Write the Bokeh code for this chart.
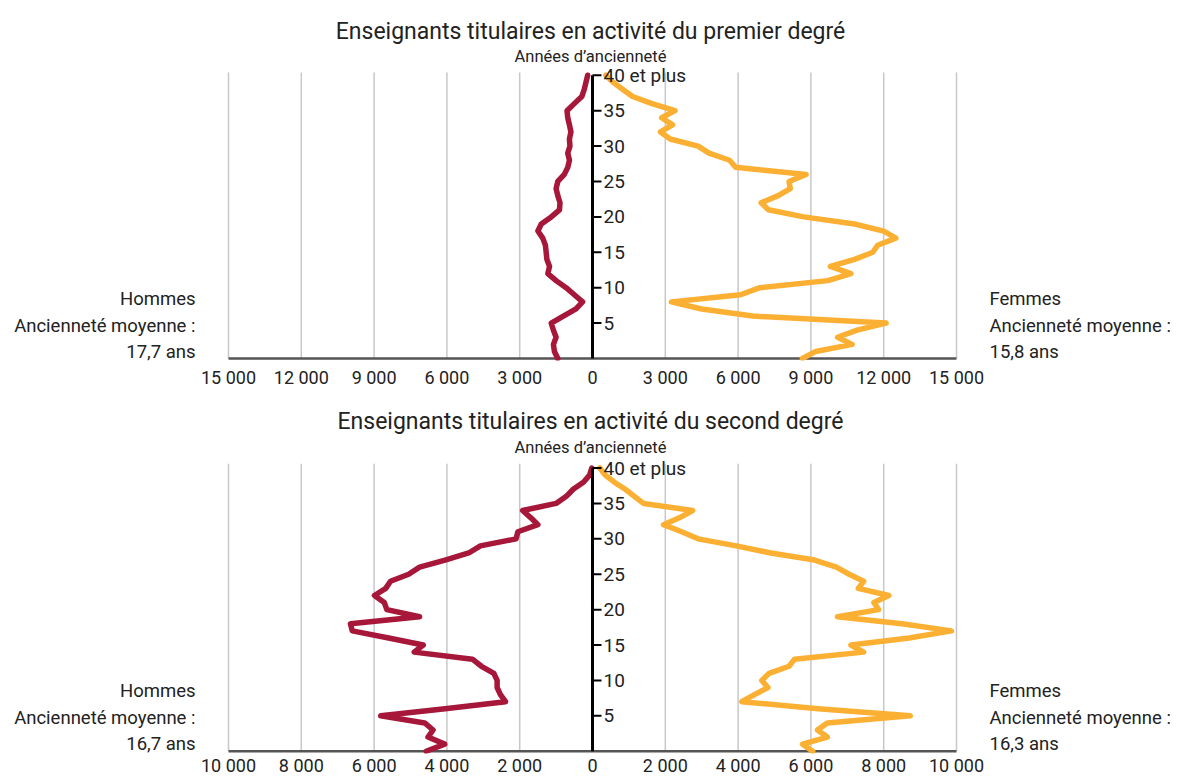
from bokeh.plotting import figure
from bokeh.layouts import column
from bokeh.models import Range1d, FixedTicker, Label, LabelSet, ColumnDataSource
from bokeh.core.properties import value
from bokeh.embed import file_html
from bokeh.resources import INLINE

# ---------------- data ----------------
years = list(range(0, 41))

# Premier degré (number of teachers by years of seniority, 0 .. 40 et plus)
prim_hommes = [1430, 1570, 1610, 1500, 1610, 1700, 1200, 680, 410, 750,
               1090, 1500, 1840, 1770, 1880, 1910, 1940, 2050, 2250, 2110,
               1700, 1360, 1340, 1430, 1500, 1430, 1160, 1020, 950, 1020,
               930, 950, 890, 950, 1020, 1050, 750, 440, 340, 270, 200]
prim_femmes = [8650, 9200, 10700, 10100, 10900, 12100, 6600, 4500, 3250, 6100,
               6900, 9700, 10650, 9800, 10800, 11550, 11750, 12500, 12000, 10800,
               8700, 7250, 6950, 7650, 8150, 8100, 8800, 5900, 5650, 4800,
               4350, 3200, 2800, 3300, 2850, 3400, 2450, 1650, 1250, 850, 550]

# Second degré
sec_hommes = [4570, 4060, 4520, 4380, 4610, 5820, 4050, 2390, 2530, 2620,
              2620, 2710, 3050, 3300, 4900, 4650, 5600, 6600, 6650, 4750,
              5650, 5720, 5990, 5680, 5550, 5050, 4750, 4050, 3400, 3080,
              2100, 2050, 1500, 1700, 1920, 1000, 720, 530, 250, 80, 20]
sec_femmes = [6050, 5770, 6450, 6180, 6450, 8730, 6200, 4100, 4450, 4820,
              4650, 4850, 5400, 5550, 7450, 7100, 8700, 9860, 8500, 6730,
              7860, 7730, 8140, 7300, 7450, 7050, 6700, 6100, 4900, 3950,
              2900, 2450, 1950, 2400, 2750, 1400, 1150, 900, 600, 350, 200]

prim_ticks = [-15000, -12000, -9000, -6000, -3000, 0, 3000, 6000, 9000, 12000, 15000]
sec_ticks = [-10000, -8000, -6000, -4000, -2000, 0, 2000, 4000, 6000, 8000, 10000]

y_ticks = [5, 10, 15, 20, 25, 30, 35, 40]
y_labels = ["5", "10", "15", "20", "25", "30", "35", "40 et plus"]

titles = ["Enseignants titulaires en activité du premier degré",
          "Enseignants titulaires en activité du second degré"]
axis_title = "Années d\u2019ancienneté"
left_texts = [["Hommes", "Ancienneté moyenne :", "17,7 ans"],
              ["Hommes", "Ancienneté moyenne :", "16,7 ans"]]
right_texts = [["Femmes", "Ancienneté moyenne :", "15,8 ans"],
               ["Femmes", "Ancienneté moyenne :", "16,3 ans"]]

# ---------------- style / layout ----------------
RED = "#A6173A"
ORANGE = "#FBB034"
GRID = "#C8C8C8"
TXT = "#222222"
FONT = "Roboto"

W = 1176            # figure width (frame spans it entirely)
X_LEFT = 228        # pixel where -lim sits
X_RIGHT = 956       # pixel where +lim sits


def fmt(v):
    return f"{abs(v):,}".replace(",", " ")


def make_panel(title, hommes, femmes, ticks, ltxt, rtxt, height, bbottom, standoff,
               y_bot, y_top, grid_top, title_y, sub_y, side_y):
    lim = max(abs(t) for t in ticks)
    b = (X_RIGHT - X_LEFT) / (2 * lim)
    xr = Range1d(-lim - X_LEFT / b, lim + (W - X_RIGHT) / b)
    p = figure(width=W, height=height,
               x_range=xr, y_range=Range1d(y_bot, y_top),
               output_backend="svg", toolbar_location=None,
               y_axis_location=None,
               min_border_left=0, min_border_right=0,
               min_border_top=0, min_border_bottom=bbottom,
               outline_line_color=None)
    p.xaxis.ticker = FixedTicker(ticks=ticks)
    p.xaxis.major_label_overrides = {t: fmt(t) for t in ticks}
    p.xaxis.major_tick_line_color = None
    p.xaxis.minor_tick_line_color = None
    p.xaxis.axis_line_color = None
    p.xaxis.major_label_text_font = FONT
    p.xaxis.major_label_text_font_size = "18px"
    p.xaxis.major_label_text_color = TXT
    p.xaxis.major_label_standoff = standoff
    p.grid.visible = False

    # vertical grid lines
    gt = [t for t in ticks if t != 0]
    p.segment(x0=gt, y0=[0] * len(gt), x1=gt, y1=[grid_top] * len(gt),
              line_color=GRID, line_width=1.5)
    # baseline
    p.segment(x0=[-lim], y0=[0], x1=[lim], y1=[0], line_color="#555555", line_width=2.5)

    neg = [-v for v in hommes]
    p.line(neg, years, line_color=RED, line_width=5.5, line_join="round", line_cap="round")
    p.line(femmes, years, line_color=ORANGE, line_width=5.5, line_join="round", line_cap="round")

    # vertical axis at 0
    p.segment(x0=[0], y0=[0], x1=[0], y1=[40], line_color="black", line_width=3)
    p.ray(x=[0] * len(y_ticks), y=y_ticks, length=9, length_units="screen",
          angle=0, line_color="black", line_width=2)
    src = ColumnDataSource(dict(x=[0] * len(y_ticks), y=y_ticks, text=y_labels))
    p.add_layout(LabelSet(x="x", y="y", text="text", source=src, x_offset=11,
                          text_align="left", text_baseline="middle",
                          text_font=value(FONT), text_font_size="19px", text_color=TXT))

    p.add_layout(Label(x=0, y=title_y, x_offset=-2, text=title, text_align="center",
                       text_baseline="middle", text_font=FONT, text_font_size="23px",
                       text_color=TXT))
    p.add_layout(Label(x=0, y=sub_y, x_offset=-2, text=axis_title, text_align="center",
                       text_baseline="middle", text_font=FONT, text_font_size="16.5px",
                       text_color=TXT))

    for t, yy in zip(ltxt, side_y):
        p.add_layout(Label(x=-lim, y=yy, x_offset=-33, text=t, text_align="right",
                           text_baseline="middle", text_font=FONT,
                           text_font_size="18.5px", text_color=TXT))
    for t, yy in zip(rtxt, side_y):
        p.add_layout(Label(x=lim, y=yy, x_offset=33, text=t, text_align="left",
                           text_baseline="middle", text_font=FONT,
                           text_font_size="18.5px", text_color=TXT))
    return p


p1 = make_panel(titles[0], prim_hommes, prim_femmes, prim_ticks,
                left_texts[0], right_texts[0], 390, 30, 0,
                -0.28, 50.56, 40.4, 46.2, 42.65, [8.47, 4.66, 0.99])
p2 = make_panel(titles[1], sec_hommes, sec_femmes, sec_ticks,
                left_texts[1], right_texts[1], 388, 25, -5,
                -0.32, 50.95, 40.6, 46.57, 42.9, [8.57, 4.76, 1.09])

layout = column(p1, p2, spacing=0)
open("out.html", "w").write(file_html(layout, INLINE))
